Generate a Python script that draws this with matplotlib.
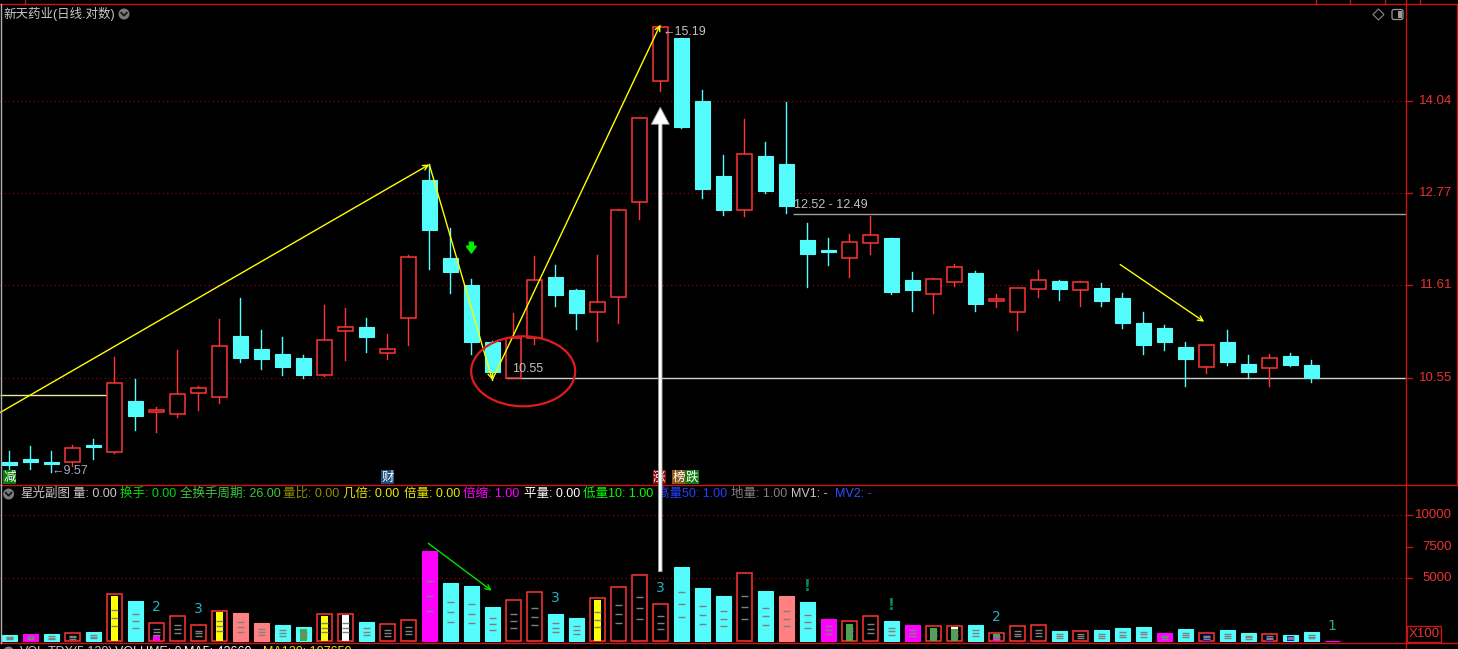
import matplotlib
matplotlib.use("Agg")
import matplotlib.pyplot as plt
import matplotlib.transforms as mtransforms
from matplotlib.patches import Rectangle, Ellipse, Circle, FancyArrow, Polygon, FancyBboxPatch
from matplotlib.lines import Line2D
import numpy as np

plt.rcParams['font.family'] = ['Liberation Sans', 'Noto Sans CJK SC', 'DejaVu Sans']

W, H = 1458, 649

# daily candles (price, log scale)
opens = [9.67, 9.70, 9.67, 9.67, 9.84, 9.77, 10.30, 10.19, 10.16, 10.39,
         10.34, 11.02, 10.87, 10.81, 10.77, 10.58, 11.07, 11.12, 10.82, 11.22,
         12.94, 11.94, 11.61, 10.95, 10.55, 10.99, 11.71, 11.55, 11.29, 11.47,
         12.65, 14.34, 14.98, 14.04, 12.99, 12.55, 13.27, 13.16, 12.16, 12.04,
         11.94, 12.13, 12.19, 11.67, 11.51, 11.65, 11.76, 11.42, 11.29, 11.57,
         11.66, 11.55, 11.58, 11.46, 11.17, 11.11, 10.89, 10.67, 10.95, 10.70,
         10.66, 10.79, 10.69]
highs = [9.78, 9.83, 9.78, 9.85, 9.91, 10.78, 10.54, 10.24, 10.86, 10.46,
         11.21, 11.46, 11.08, 11.01, 10.80, 11.38, 11.34, 11.22, 11.04, 11.98,
         13.15, 12.32, 11.69, 10.96, 11.28, 11.97, 11.86, 11.56, 11.98, 12.56,
         13.80, 15.19, 14.99, 14.20, 13.28, 13.78, 13.46, 14.03, 12.38, 12.19,
         12.24, 12.47, 12.19, 11.77, 11.70, 11.87, 11.78, 11.51, 11.58, 11.79,
         11.67, 11.66, 11.64, 11.52, 11.29, 11.14, 10.95, 10.92, 11.08, 10.80,
         10.81, 10.83, 10.75]
lows = [9.60, 9.60, 9.57, 9.63, 9.70, 9.76, 10.00, 9.98, 10.13, 10.21,
        10.28, 10.72, 10.65, 10.58, 10.55, 10.57, 10.75, 10.84, 10.76, 10.91,
        11.81, 11.52, 10.81, 10.53, 10.55, 10.93, 11.36, 11.10, 10.96, 11.17,
        12.43, 14.19, 13.66, 12.70, 12.48, 12.47, 12.77, 12.51, 11.59, 11.86,
        11.71, 11.99, 11.51, 11.31, 11.28, 11.60, 11.31, 11.35, 11.08, 11.47,
        11.43, 11.36, 11.36, 11.11, 10.81, 10.86, 10.46, 10.60, 10.69, 10.55,
        10.46, 10.68, 10.51]
closes = [9.64, 9.67, 9.65, 9.81, 9.82, 10.50, 10.14, 10.21, 10.38, 10.44,
          10.90, 10.77, 10.76, 10.67, 10.58, 10.97, 11.12, 11.00, 10.87, 11.95,
          12.29, 11.77, 10.95, 10.61, 10.99, 11.67, 11.49, 11.28, 11.41, 12.55,
          13.79, 15.15, 13.67, 12.82, 12.55, 13.29, 12.80, 12.60, 11.99, 12.02,
          12.14, 12.23, 11.53, 11.55, 11.68, 11.83, 11.39, 11.45, 11.58, 11.67,
          11.56, 11.65, 11.42, 11.17, 10.92, 10.95, 10.76, 10.92, 10.72, 10.62,
          10.77, 10.69, 10.55]

# volume (x100 shares), last bar is today with no trade yet
volumes = [514, 593, 593, 649, 751, 3757, 3204, 1440, 1993, 1281,
           2389, 2254, 1463, 1305, 1147, 2175, 2175, 1542, 1361, 1701,
           7159, 4627, 4390, 2729, 3283, 3915, 2175, 1859, 3441, 4311,
           5260, 2966, 5893, 4232, 3599, 5418, 3995, 3599, 3124, 1780,
           1622, 2017, 1622, 1305, 1226, 1226, 1305, 672, 1226, 1305,
           831, 831, 910, 1068, 1147, 672, 989, 672, 910, 672,
           593, 514, 751, 0]
# c cyan, m magenta, s salmon, r hollow red
vol_kinds = "cmcrcrcrrrr" "sscc" "rrcrr" "mccc" "rrcc" "rrrr" "cccrcsc" \
            "mrrcm" "rrc" "rrrcr" "cccmc" "rccrcc" "m"
inner_fills = [(5, 'yellow', 0, 0.95), (7, '#ff00ff', 0, 0.38), (10, 'yellow', 0, 0.97),
               (14, '#3cb043', 0, 0.86), (15, 'yellow', 0, 0.93), (16, 'white', 0, 0.96),
               (28, 'yellow', 0, 0.95), (40, '#3cb043', 0, 0.85), (44, '#3cb043', 0, 0.87),
               (45, '#3cb043', 0, 0.80), (45, 'white', 0.80, 0.93), (47, '#ff00ff', 0, 0.6),
               (47, '#3cb043', 0.6, 0.85), (57, '#0000e8', 0, 0.75), (60, '#0000e8', 0, 0.7),
               (61, '#0000e8', 0, 0.83)]
vol_marks = [(7, '2'), (9, '3'), (26, '3'), (31, '3'), (38, '!'), (42, '!'), (47, '2'), (63, '1')]
mark_colors = {'2': '#20b4c4', '3': '#20b4c4', '!': '#008a68', '1': '#30a888'}

price_ticks = [14.04, 12.77, 11.61, 10.55]
vol_ticks = [10000, 7500, 5000]

# zigzag swing points (index, price)
zig_x = [-0.444, 20, 23, 31]
zig_y = [10.18, 13.15, 10.53, 15.19]
trend_x = [52.9, 56.9]
trend_y = [11.86, 11.18]
vol_arrow_x = [19.95, 22.97]
vol_arrow_y = [7768, 4018]

UP = '#ff3434'
DOWN = '#54fcfc'
GRID = '#b80000'
FRAME = '#c81414'
fills = {'c': DOWN, 'm': '#ff00ff', 's': '#ff8080'}

fig = plt.figure(figsize=(W / 100, H / 100), dpi=100, facecolor='black')
ident = mtransforms.IdentityTransform()


def fx(px):
    return px / W


def fy(py):
    return 1 - py / H


ax = fig.add_axes([0, fy(485), fx(1406), fy(4) - fy(485)])
ax2 = fig.add_axes([0, fy(643), fx(1406), fy(485) - fy(643)])
for a in (ax, ax2):
    a.set_axis_off()
    a.set_xlim(-0.444, 66.51)
ax.set_yscale('log')
ax.set_ylim(9.447, 15.518)
ax2.set_ylim(-119, 12379)

bw = 0.714

# grid
for v in price_ticks:
    ax.axhline(v, color=GRID, lw=0.75, ls=(0, (1, 3)), zorder=0)
for v in [10000, 5000]:
    ax2.axhline(v, color=GRID, lw=0.75, ls=(0, (1, 3)), zorder=0)

# reference lines
ax.hlines(10.55, 23.66, 66.51, color='#d0d0d0', lw=1, zorder=1)
ax.hlines(12.49, 37.32, 66.51, color='#a0a0a0', lw=1, zorder=1)
ax.hlines(10.366, -0.444, 4.93, color='#e8e8a0', lw=1, zorder=1)

# candles
for i in range(len(opens)):
    o, h, l, c = opens[i], highs[i], lows[i], closes[i]
    top, bot = max(o, c), min(o, c)
    if c >= o:
        ax.plot([i, i], [top, h], color=UP, lw=1, zorder=3)
        ax.plot([i, i], [l, bot], color=UP, lw=1, zorder=3)
        ax.add_patch(Rectangle((i - bw / 2, bot), bw, top - bot, facecolor='black',
                               edgecolor=UP, lw=1.1, zorder=3))
    else:
        ax.plot([i, i], [l, h], color=DOWN, lw=1, zorder=3)
        ax.add_patch(Rectangle((i - bw / 2, bot), bw, top - bot, facecolor=DOWN,
                               edgecolor=DOWN, lw=0.8, zorder=3))

# zigzag and trend arrows
for k in range(len(zig_x) - 1):
    ax.annotate('', xy=(zig_x[k + 1], zig_y[k + 1]), xytext=(zig_x[k], zig_y[k]),
                arrowprops=dict(arrowstyle='->', color='yellow', lw=1, shrinkA=0, shrinkB=0,
                                mutation_scale=9), zorder=5)
ax.annotate('', xy=(trend_x[1], trend_y[1]), xytext=(trend_x[0], trend_y[0]),
            arrowprops=dict(arrowstyle='->', color='yellow', lw=1, shrinkA=0, shrinkB=0,
                            mutation_scale=9), zorder=5)

# price notes
ax.text(37.36, 12.606, '12.52 - 12.49', color='#c0c0c0', fontsize=9, va='center', ha='left', zorder=6)
ax.text(23.92, 10.648, '10.55', color='#c0c0c0', fontsize=9, va='center', ha='left', zorder=6)
ax.text(31.1, 15.07, '←15.19', color='#c0c0c0', fontsize=9, va='center', ha='left', zorder=6)
ax.text(2.0, 9.585, '←9.57', color='#a4acbc', fontsize=9, va='center', ha='left', zorder=6)

# green down marker on candle 22
fig.canvas.draw()
gx, gy = ax.transData.transform((22, 12.0))
fig.add_artist(FancyArrow(gx, gy + 11, 0, -11, width=4, head_width=10, head_length=7,
                          length_includes_head=True, color='#00ee00', transform=ident))

# circled low
ex, ey = ax.transData.transform((24.47, 10.623))
fig.add_artist(Ellipse((ex, ey), 104, 70, transform=ident, facecolor='none',
                       edgecolor='#e01c1c', lw=1.6))

# tags at the bottom of the price panel
tag_tr = mtransforms.blended_transform_factory(ax.transData, ax.transAxes)
tags = [(0, '减', '#0a7a0a'), (18, '财', '#1f4f7f'), (30.95, '涨', '#8c1010'),
        (31.9, '榜', '#8b5a1a'), (32.5, '跌', '#107a10')]
for ti, ch, bg in tags:
    ax.text(ti, 0.0156, ch, transform=tag_tr, ha='center', va='center', fontsize=9,
            color='white', family='Noto Sans CJK SC', zorder=6,
            bbox=dict(boxstyle='square,pad=0.04', facecolor=bg, edgecolor='none'))

# volume bars
iw = 0.333
for i, (v, k) in enumerate(zip(volumes, vol_kinds)):
    if k == 'r':
        ax2.add_patch(Rectangle((i - bw / 2, 0), bw, v, facecolor='black', edgecolor=UP,
                                lw=1.1, zorder=2))
    else:
        ax2.add_patch(Rectangle((i - bw / 2, 0), bw, v, facecolor=fills[k], edgecolor=fills[k],
                                lw=0.8, zorder=2))
for i, col, lo, hi in inner_fills:
    ax2.add_patch(Rectangle((i - iw / 2, volumes[i] * lo), iw, volumes[i] * (hi - lo),
                            facecolor=col, edgecolor='none', zorder=3))
for i, v in enumerate(volumes):
    if v > 0:
        ax2.hlines([v / 3, v / 2, 2 * v / 3], i - iw / 2, i + iw / 2, color='#808080', lw=1, zorder=4)
for i, s in vol_marks:
    ax2.annotate(s, xy=(i, volumes[i]), xytext=(0, 11.5), textcoords='offset points',
                 ha='center', va='center', fontsize=11 if s == '!' else 10,
                 fontweight='bold' if s == '!' else 'normal', color=mark_colors[s],
                 family='DejaVu Sans', zorder=5)
ax2.annotate('', xy=(vol_arrow_x[1], vol_arrow_y[1]), xytext=(vol_arrow_x[0], vol_arrow_y[0]),
             arrowprops=dict(arrowstyle='->', color='#00e000', lw=1, shrinkA=0, shrinkB=0,
                             mutation_scale=9), zorder=5)

# right axes labels
ptr = mtransforms.blended_transform_factory(fig.transFigure, ax.transData)
for v in price_ticks:
    ax.plot([fx(1406), fx(1412)], [v, v], color=FRAME, lw=1, transform=ptr, clip_on=False)
    ax.text(fx(1452), v, f'{v:.2f}', transform=ptr, ha='right', va='center', fontsize=9.5,
            color='#e83232', clip_on=False)
vtr = mtransforms.blended_transform_factory(fig.transFigure, ax2.transData)
for v in vol_ticks:
    ax2.plot([fx(1406), fx(1412)], [v, v], color=FRAME, lw=1, transform=vtr, clip_on=False)
    ax2.text(fx(1452), v, f'{v}', transform=vtr, ha='right', va='center', fontsize=9.5,
             color='#e83232', clip_on=False)
fig.add_artist(Rectangle((1407, H - 642), 34, 16, transform=ident, facecolor='none',
                         edgecolor=FRAME, lw=1))
fig.text(fx(1424), fy(634), 'X100', ha='center', va='center', fontsize=9.5, color='#e83232')


# frame lines
def hline_px(y, x0, x1, color=FRAME):
    fig.add_artist(Line2D([x0, x1], [H - y, H - y], transform=ident, color=color, lw=1))


def vline_px(x, y0, y1, color=FRAME):
    fig.add_artist(Line2D([x, x], [H - y0, H - y1], transform=ident, color=color, lw=1))


hline_px(4, 0, W)
hline_px(485, 0, W)
hline_px(643, 0, W)
vline_px(1406, 0, H)
vline_px(1456.5, 4, 485)
vline_px(0.5, 4, 643, '#b0b0b0')
for tx in [24.7, 1316, 1350, 1385, 1420]:
    vline_px(tx, 0, 4)

# big white arrow across both panels
tip = ax.transData.transform((31, 13.95))
base = ax2.transData.transform((31, 5521))
fig.add_artist(FancyArrow(base[0], base[1], 0, tip[1] - base[1], width=3.5, head_width=18,
                          head_length=17, length_includes_head=True, facecolor='white',
                          edgecolor='#9a9a9a', lw=0.6, transform=ident, zorder=10))


# header icons
def icon_circle(px, py):
    fig.add_artist(Circle((px, H - py), 5.5, transform=ident, facecolor='#7a7a7a', edgecolor='none'))
    fig.add_artist(Line2D([px - 2.8, px, px + 2.8], [H - py + 1.2, H - py - 1.6, H - py + 1.2],
                          transform=ident, color='#161616', lw=1.3))


fig.text(fx(3), fy(14), '新天药业(日线.对数)', ha='left', va='center', fontsize=9, color='#c8c8c8')
icon_circle(124, 14)
fig.add_artist(Polygon([(1378.5, H - 9), (1384, H - 14.5), (1378.5, H - 20), (1373, H - 14.5)],
                       closed=True, transform=ident, facecolor='none', edgecolor='#8a8a8a', lw=0.8))
fig.add_artist(FancyBboxPatch((1392, H - 19.5), 11, 10, boxstyle='round,pad=0,rounding_size=2',
                              transform=ident, facecolor='none', edgecolor='#9a9a9a', lw=0.9))
fig.add_artist(Rectangle((1397.5, H - 18), 4, 7, transform=ident, facecolor='#9a9a9a', edgecolor='none'))

vol_header = [("星光副图", 20, '#c8c8c8'), ("量: 0.00", 73, '#c8c8c8'),
              ("换手: 0.00", 120, '#00d800'), ("全换手周期: 26.00", 180, '#3cc83c'),
              ("量比: 0.00", 283, '#8c8c00'), ("几倍: 0.00", 343, '#e8e800'),
              ("倍量: 0.00", 404, '#e8e800'), ("倍缩: 1.00", 463, '#ff00ff'),
              ("平量: 0.00", 524, '#ffffff'), ("低量10: 1.00", 583, '#00ff00'),
              ("高量50: 1.00", 657, '#2040ff'), ("地量: 1.00", 731, '#808080'),
              ("MV1: -", 791, '#c8c8c8'), ("MV2: -", 835, '#3050ff')]
icon_circle(8.6, 494)
for s, px, col in vol_header:
    fig.text(fx(px), fy(494), s, ha='left', va='center', fontsize=9, color=col)

# next indicator row, only its top shows at the bottom edge (as in the source)
bottom_header = [("VOL-TDX(5,120)", 20, '#c8c8c8'), ("VOLUME: 0", 115, '#e0e0e0'),
                 ("MA5: 42660", 184, '#ffffff'), ("MA120: 107650", 263, '#e8e800')]
icon_circle(8.6, 652)
for s, px, col in bottom_header:
    fig.text(fx(px), fy(646), s, ha='left', va='top', fontsize=9, color=col)

fig.savefig('out.png', dpi=100, facecolor='black')
